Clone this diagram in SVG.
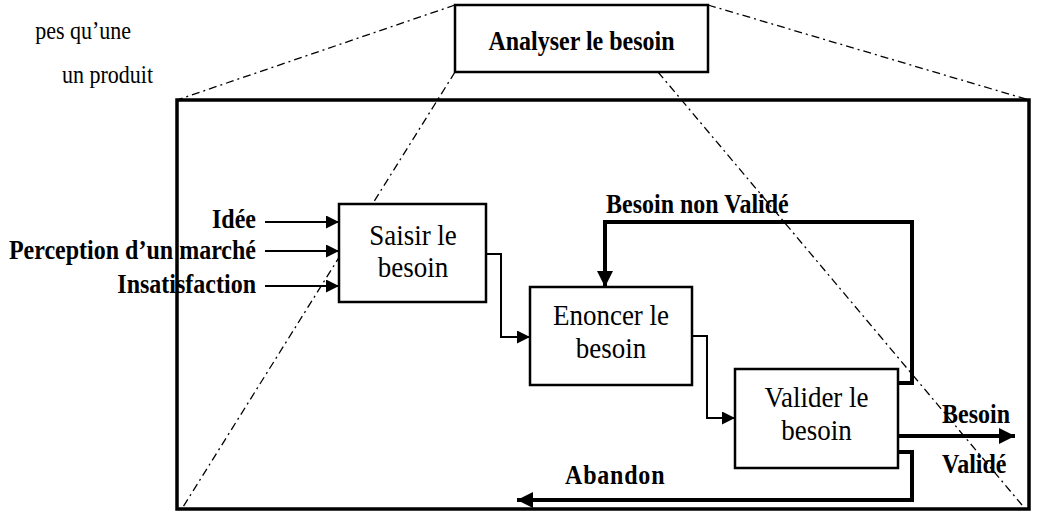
<svg xmlns="http://www.w3.org/2000/svg" width="1037" height="513" viewBox="0 0 1037 513">
  <style>
    text { font-family: 'Liberation Serif', 'Times New Roman', serif; fill: #000; }
    .box { fill: #fff; stroke: #000; stroke-width: 2.5; }
    .frame { fill: none; stroke: #000; stroke-width: 3.5; }
    .proj { fill: none; stroke: #000; stroke-width: 1.3; stroke-dasharray: 8 4 2 4; }
    .thin { fill: none; stroke: #000; stroke-width: 2; }
    .thick { fill: none; stroke: #000; stroke-width: 4; }
    .node { font-size: 27px; text-anchor: middle; }
    .lbl { font-size: 24px; font-weight: bold; }
    .body { font-size: 22px; text-anchor: end; }
  </style>
  <defs>
    <marker id="arr" viewBox="0 0 10 10" refX="10" refY="5" markerWidth="14" markerHeight="13" markerUnits="userSpaceOnUse" orient="auto">
      <path d="M0,0 L10,5 L0,10 Z" fill="#000"/>
    </marker>
    <marker id="arrBig" viewBox="0 0 10 10" refX="10" refY="5" markerWidth="18" markerHeight="16" markerUnits="userSpaceOnUse" orient="auto">
      <path d="M0,0 L10,5 L0,10 Z" fill="#000"/>
    </marker>
  </defs>

  <!-- surrounding body text, partly cut off -->
  <text class="body" transform="translate(131,39) scale(1,1.1)">pes qu’une</text>
  <text class="body" transform="translate(153,83) scale(1,1.1)">un produit</text>

  <!-- expansion frame of the activity -->
  <g id="frame">
    <rect class="frame" x="177" y="100" width="852" height="409"/>
  </g>

  <!-- parent activity -->
  <g id="analyser">
    <rect class="box" x="455" y="5" width="253" height="67" stroke-width="3.5"/>
    <text class="lbl" transform="translate(581.5,50) scale(1,1.15)" text-anchor="middle" font-size="28">Analyser le besoin</text>
  </g>

  <!-- projection lines from the parent box to the frame -->
  <g id="projection">
    <line class="proj" x1="455" y1="5" x2="177" y2="100"/>
    <line class="proj" x1="708" y1="5" x2="1029" y2="100"/>
    <line class="proj" x1="455" y1="72" x2="183" y2="507"/>
    <line class="proj" x1="658" y1="72" x2="1022" y2="505"/>
  </g>

  <g id="saisir">
    <rect class="box" x="339" y="204" width="147" height="98"/>
    <text class="node" transform="translate(413,245) scale(1,1.1)" font-size="28">Saisir le</text>
    <text class="node" transform="translate(413,277) scale(1,1.1)" font-size="28">besoin</text>
  </g>

  <g id="enoncer">
    <rect class="box" x="530" y="287" width="162" height="98"/>
    <text class="node" transform="translate(611,325) scale(1,1.1)">Enoncer le</text>
    <text class="node" transform="translate(611,358) scale(1,1.1)">besoin</text>
  </g>

  <g id="valider">
    <rect class="box" x="735" y="369" width="163" height="99"/>
    <text class="node" transform="translate(816.5,407) scale(1,1.1)">Valider le</text>
    <text class="node" transform="translate(816.5,440) scale(1,1.1)">besoin</text>
  </g>

  <!-- connectors -->
  <g id="connectors">
    <line class="thin" x1="265" y1="222" x2="339" y2="222" marker-end="url(#arr)"/>
    <line class="thin" x1="265" y1="251" x2="339" y2="251" marker-end="url(#arr)"/>
    <line class="thin" x1="265" y1="286" x2="339" y2="286" marker-end="url(#arr)"/>
    <polyline class="thin" points="486,254 501,254 501,337 530,337" marker-end="url(#arr)"/>
    <polyline class="thin" points="692,336 707,336 707,418 735,418" marker-end="url(#arr)"/>
    <polyline class="thick" points="898,383 912,383 912,222 605,222 605,287" marker-end="url(#arrBig)"/>
    <line class="thick" x1="898" y1="436" x2="1015" y2="436" marker-end="url(#arrBig)"/>
    <polyline class="thick" points="898,452 912,452 912,500 517,500" marker-end="url(#arrBig)"/>
  </g>

  <!-- connector labels -->
  <g id="labels">
    <text class="lbl" transform="translate(256,228) scale(1,1.15)" text-anchor="end">Idée</text>
    <text class="lbl" transform="translate(256,259) scale(1,1.15)" text-anchor="end">Perception d’un marché</text>
    <text class="lbl" transform="translate(256,293) scale(1,1.15)" text-anchor="end">Insatisfaction</text>
    <text class="lbl" transform="translate(606,213) scale(1,1.15)">Besoin non Validé</text>
    <text class="lbl" transform="translate(942,423) scale(1,1.15)">Besoin</text>
    <text class="lbl" transform="translate(942,473) scale(1,1.15)">Validé</text>
    <text class="lbl" transform="translate(565,484) scale(1,1.1)" font-size="28" letter-spacing="0.8">Abandon</text>
  </g>
</svg>
